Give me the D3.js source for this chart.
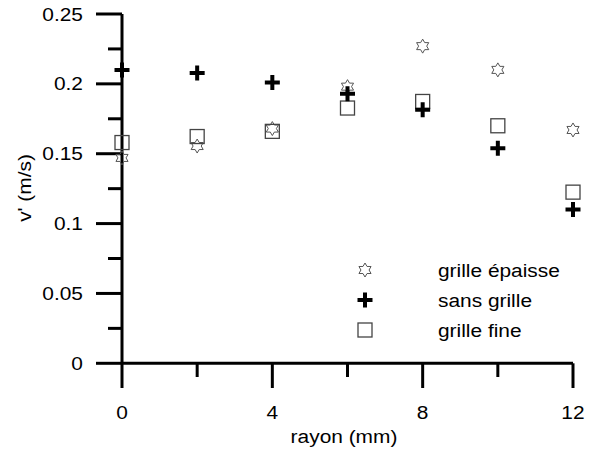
<!DOCTYPE html>
<html><head><meta charset="utf-8">
<script src="https://cdn.jsdelivr.net/npm/d3@7"></script>
<style>body{margin:0;background:#fff}svg{display:block}text{font-family:"Liberation Sans",Arial,sans-serif;fill:#000}</style>
</head><body><svg id="c" width="593" height="452"></svg>
<script>
const rayon = [0, 2, 4, 6, 8, 10, 12];
const grilleEpaisse = [0.147, 0.1555, 0.168, 0.198, 0.227, 0.210, 0.167];
const sansGrille = [0.210, 0.2077, 0.201, 0.193, 0.1815, 0.154, 0.110];
const grilleFine = [0.158, 0.1623, 0.166, 0.1827, 0.1874, 0.170, 0.1225];
const xTicks = [0, 4, 8, 12];
const xMinor = [2, 6, 10];
const yTicks = [0, 0.05, 0.1, 0.15, 0.2, 0.25];
const yMinor = [0.025, 0.075, 0.125, 0.175, 0.225];
const seriesNames = ["grille épaisse", "sans grille", "grille fine"];

const FS = 18, STRETCH = 1.16;
const svg = d3.select("#c");
const x = d3.scaleLinear().domain([0, 12]).range([122, 573]);
const y = d3.scaleLinear().domain([0, 0.25]).range([363.3, 14]);

function stretch(sel) {
  sel.each(function () {
    const L = this.getComputedTextLength();
    d3.select(this).attr("textLength", L * STRETCH).attr("lengthAdjust", "spacingAndGlyphs");
  });
}

const g = svg.append("g");
g.append("line").attr("x1", x(0)).attr("x2", x(12)).attr("y1", y(0)).attr("y2", y(0)).attr("stroke", "#000").attr("stroke-width", 3);
g.append("line").attr("x1", x(0)).attr("x2", x(0)).attr("y1", y(0.25)).attr("y2", y(0)).attr("stroke", "#000").attr("stroke-width", 3);
g.selectAll(".yt").data(yTicks).enter().append("line").attr("x1", 96).attr("x2", x(0)).attr("y1", d => y(d)).attr("y2", d => y(d)).attr("stroke", "#000").attr("stroke-width", 3);
g.selectAll(".ym").data(yMinor).enter().append("line").attr("x1", 108).attr("x2", x(0)).attr("y1", d => y(d)).attr("y2", d => y(d)).attr("stroke", "#000").attr("stroke-width", 3);
g.selectAll(".yl").data(yTicks).enter().append("text").attr("x", 83).attr("y", d => y(d) + 6.5).attr("text-anchor", "end").attr("font-size", FS).text(d => String(d)).call(stretch);
g.selectAll(".xt").data(xTicks).enter().append("line").attr("x1", d => x(d)).attr("x2", d => x(d)).attr("y1", y(0)).attr("y2", 388).attr("stroke", "#000").attr("stroke-width", 3);
g.selectAll(".xm").data(xMinor).enter().append("line").attr("x1", d => x(d)).attr("x2", d => x(d)).attr("y1", y(0)).attr("y2", 377).attr("stroke", "#000").attr("stroke-width", 3);
g.selectAll(".xl").data(xTicks).enter().append("text").attr("x", d => x(d)).attr("y", 419).attr("text-anchor", "middle").attr("font-size", FS).text(d => d).call(stretch);
svg.append("text").attr("x", 344).attr("y", 443).attr("text-anchor", "middle").attr("font-size", FS).text("rayon (mm)").call(stretch);
svg.append("text").attr("transform", "translate(31,188) rotate(-90)").attr("text-anchor", "middle").attr("font-size", FS).text("v' (m/s)").call(stretch);

function starPath(r) {
  const pts = [];
  for (let i = 0; i < 12; i++) {
    const a = -Math.PI / 2 + i * Math.PI / 6;
    const rr = i % 2 === 0 ? r : r * 0.58;
    pts.push([rr * Math.cos(a), rr * Math.sin(a)]);
  }
  return "M" + pts.map(p => p[0].toFixed(2) + "," + p[1].toFixed(2)).join("L") + "Z";
}
const plusPath = "M-7.5,-2L-2,-2L-2,-7.5L2,-7.5L2,-2L7.5,-2L7.5,2L2,2L2,7.5L-2,7.5L-2,2L-7.5,2Z";
function drawStar(sel) { sel.append("path").attr("d", starPath(7)).attr("fill", "none").attr("stroke", "#555").attr("stroke-width", 1); }
function drawSquare(sel) { sel.append("rect").attr("x", -7).attr("y", -7).attr("width", 14).attr("height", 14).attr("fill", "none").attr("stroke", "#444").attr("stroke-width", 1.3); }
function drawPlus(sel) { sel.append("path").attr("d", plusPath).attr("fill", "#000"); }

const pts = svg.append("g");
pts.selectAll(".s").data(rayon).enter().append("g").attr("transform", (d, i) => `translate(${x(d)},${y(grilleEpaisse[i])})`).call(drawStar);
pts.selectAll(".q").data(rayon).enter().append("g").attr("transform", (d, i) => `translate(${x(d)},${y(grilleFine[i])})`).call(drawSquare);
pts.selectAll(".p").data(rayon).enter().append("g").attr("transform", (d, i) => `translate(${x(d)},${y(sansGrille[i])})`).call(drawPlus);

const leg = svg.append("g");
const legY = [270, 300, 330];
const drawers = [drawStar, drawPlus, drawSquare];
seriesNames.forEach((n, i) => {
  const gg = leg.append("g").attr("transform", `translate(365,${legY[i]})`);
  drawers[i](gg);
  leg.append("text").attr("x", 438).attr("y", legY[i] + 6.5).attr("font-size", FS).text(n).call(stretch);
});
</script></body></html>
